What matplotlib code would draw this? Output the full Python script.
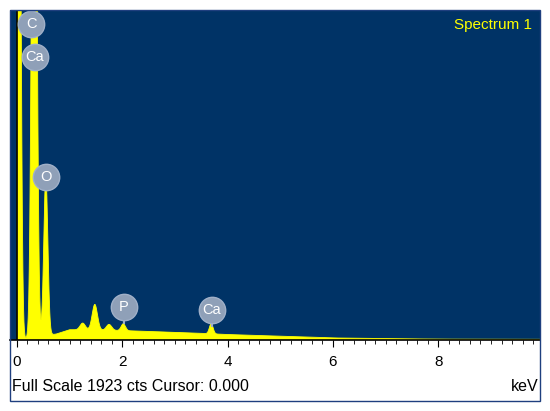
import numpy as np
import matplotlib
matplotlib.use("Agg")
import matplotlib.pyplot as plt
from matplotlib.patches import Rectangle

plt.rcParams['font.family'] = ['Liberation Sans', 'DejaVu Sans']

# peak data (keV, counts, sigma keV)
peak_pos = [0.04, 0.31, 0.35, 0.55, 1.25, 1.48, 1.75, 2.02, 3.69]
peak_cts = [4000, 2600, 2600, 930, 40, 150, 35, 40, 60]
peak_sig = [0.035, 0.038, 0.038, 0.038, 0.05, 0.05, 0.05, 0.04, 0.035]
# background (keV, counts)
bg_e = [0.0, 0.75, 1.0, 2.0, 3.0, 4.0, 5.0, 6.0, 7.0, 8.0, 10.0]
bg_c = [0, 35, 60, 55, 45, 32, 22, 12, 8, 5, 4]
labels = ["C", "Ca", "O", "P", "Ca"]
label_e = [0.27, 0.34, 0.55, 2.03, 3.7]
label_y = [1840, 1650, 950, 190, 175]
stem_top = [1800, 1600, 880, 100, 80]
full_scale = 1923

e = np.arange(0, 10.0, 0.005)
cts = np.interp(e, bg_e, bg_c)
for p, h, s in zip(peak_pos, peak_cts, peak_sig):
    cts = cts + h * np.exp(-0.5 * ((e - p) / s) ** 2)

navy = "#003366"
yellow = "#FFFF00"
fig = plt.figure(figsize=(5.5, 4.11), dpi=100)
fig.patch.set_facecolor("white")
W, H = 550, 411
ax = fig.add_axes([10 / W, (H - 340) / H, 530 / W, 330 / H])
ax.set_facecolor(navy)
ax.fill_between(e, 0, cts, color=yellow, lw=0)
ax.plot(e, cts, color=yellow, lw=0.6)
ax.axvline(0.0, color="black", lw=1.2)
ax.set_xlim(-0.13, 9.93)
ax.set_ylim(0, full_scale)
ax.set_yticks([])
ax.set_xticks(np.arange(0, 10, 2))
ax.set_xticks(np.arange(0, 9.95, 0.2), minor=True)
ax.tick_params(axis="x", which="major", length=5, direction="out", labelsize=11, pad=6, color="black")
ax.tick_params(axis="x", which="minor", length=3, direction="out", color="black")
for s in ["top", "left", "right"]:
    ax.spines[s].set_visible(False)
ax.spines["bottom"].set_color("black")
ax.spines["bottom"].set_linewidth(1.2)

for lab, xe, ly, st in zip(labels, label_e, label_y, stem_top):
    ax.plot([xe, xe], [st, ly], color="#a0b0c8", lw=1.5, zorder=4)
    ax.plot([xe], [ly], "o", ms=19, mfc="#8fa0b8", mec="#a0b0c8", zorder=5)
    ax.text(xe, ly, lab, ha="center", va="center", color="white", fontsize=10.5, zorder=6)
ax.text(0.985, 0.975, "Spectrum 1", transform=ax.transAxes, ha="right", va="top",
        color=yellow, fontsize=11)

fig.text(12 / W, 1 - 386 / H, "Full Scale 1923 cts Cursor: 0.000", ha="left", va="center", fontsize=11.5)
fig.text(538 / W, 1 - 386 / H, "keV", ha="right", va="center", fontsize=11.5)
fig.add_artist(Rectangle((10 / W, 1 - 401 / H), 530 / W, 391 / H, transform=fig.transFigure,
                         fill=False, ec="#1f3f7f", lw=1))
fig.savefig("out.png", dpi=100)
